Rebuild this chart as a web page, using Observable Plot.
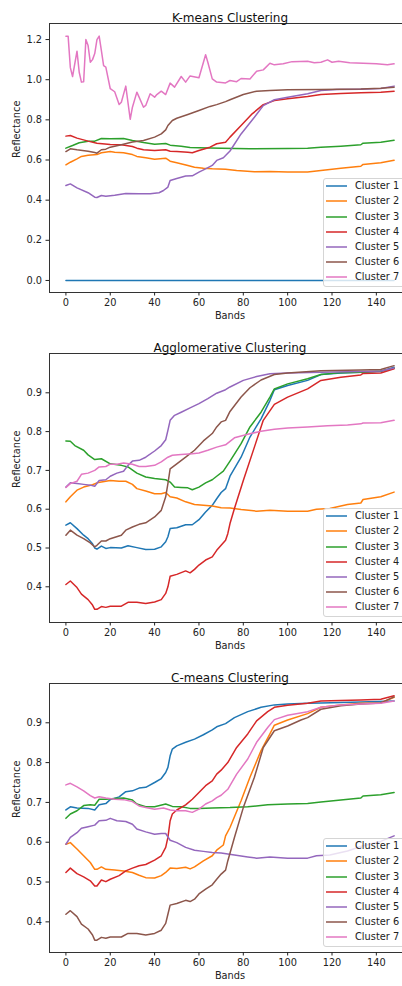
<!DOCTYPE html>
<html><head><meta charset="utf-8">
<script src="https://cdn.jsdelivr.net/npm/d3@7"></script>
<script src="https://cdn.jsdelivr.net/npm/@observablehq/plot@0.6"></script>
<style>
html,body{margin:0;padding:0;background:#fff;overflow:hidden;width:402px;}
.panel{position:relative;width:402px;height:330px;overflow:hidden;}
.panel svg{display:block;}
.legend{position:absolute;left:323px;top:178px;width:86px;height:109px;border:1px solid #d5d5d5;border-radius:3px;background:rgba(255,255,255,0.8);box-sizing:border-box;font-family:"DejaVu Sans",sans-serif;font-size:9.8px;color:#222;}
.legend .row{position:absolute;left:0;height:14px;line-height:14px;white-space:nowrap;width:90px;}
.legend .sw{position:absolute;left:2px;top:0;width:21px;height:14px;display:block;}
.legend .lab{position:absolute;left:31px;top:0;}
</style></head><body><div id="root"></div>
<script>
const clusterNames = ["Cluster 1","Cluster 2","Cluster 3","Cluster 4","Cluster 5","Cluster 6","Cluster 7"];
const palette = ["#1f77b4","#ff7f0e","#2ca02c","#d62728","#9467bd","#8c564b","#e377c2"];
const xTicks = [0,20,40,60,80,100,120,140];
const kmTicks = [0,0.2,0.4,0.6,0.8,1.0,1.2];
const agTicks = [0.4,0.5,0.6,0.7,0.8,0.9];
const cmTicks = [0.4,0.5,0.6,0.7,0.8,0.9];
const titles = ["K-means Clustering","Agglomerative Clustering","C-means Clustering"];

// K-means: [band, reflectance]
const km1 = [[0,0],[37,0],[74,0],[111,0],[148,0]];
const km2 = [[0,0.576],[2,0.589],[5,0.606],[7,0.618],[10,0.624],[14,0.627],[16,0.636],[20,0.642],[22,0.639],[26,0.636],[30,0.627],[32,0.618],[36,0.611],[40,0.604],[45,0.609],[47,0.594],[50,0.586],[55,0.573],[58,0.564],[62,0.559],[66,0.556],[72,0.554],[77,0.548],[85,0.541],[92,0.543],[100,0.54],[109,0.54],[115,0.548],[124,0.559],[133,0.569],[134,0.578],[142,0.586],[148,0.599]];
const km3 = [[0,0.659],[3,0.672],[6,0.686],[10,0.694],[13,0.694],[16,0.707],[20,0.706],[26,0.707],[30,0.697],[35,0.687],[40,0.679],[45,0.682],[47,0.674],[52,0.669],[56,0.662],[60,0.661],[70,0.659],[83,0.656],[100,0.657],[109,0.659],[115,0.664],[124,0.669],[133,0.676],[134,0.684],[142,0.689],[148,0.699]];
const km4 = [[0,0.719],[2,0.722],[5,0.709],[10,0.694],[14,0.684],[20,0.677],[25,0.676],[30,0.667],[32,0.659],[35,0.651],[40,0.647],[45,0.651],[47,0.644],[50,0.642],[55,0.639],[57,0.636],[60,0.647],[65,0.664],[68,0.681],[72,0.689],[74,0.714],[79,0.772],[84,0.83],[89,0.876],[94,0.896],[100,0.905],[109,0.916],[115,0.926],[124,0.931],[133,0.935],[142,0.938],[148,0.943]];
const km5 = [[0,0.473],[2,0.481],[5,0.461],[10,0.437],[13,0.415],[14,0.413],[16,0.423],[18,0.42],[22,0.425],[27,0.433],[33,0.432],[38,0.432],[42,0.437],[44,0.448],[46,0.465],[47,0.498],[50,0.508],[54,0.52],[57,0.521],[60,0.54],[63,0.556],[66,0.573],[68,0.598],[71,0.611],[72,0.622],[74,0.645],[79,0.73],[85,0.813],[89,0.871],[94,0.9],[100,0.913],[109,0.93],[115,0.946],[122,0.951],[133,0.953],[142,0.956],[148,0.968]];
const km6 = [[0,0.642],[2,0.656],[5,0.651],[10,0.644],[13,0.637],[14,0.634],[16,0.651],[18,0.654],[20,0.664],[25,0.676],[30,0.69],[35,0.697],[40,0.714],[43,0.73],[45,0.75],[46,0.772],[48,0.797],[50,0.808],[55,0.827],[60,0.847],[65,0.867],[68,0.876],[72,0.891],[74,0.9],[80,0.926],[86,0.943],[92,0.946],[100,0.95],[115,0.951],[133,0.954],[142,0.958],[148,0.963]];
const km7 = [[0,1.217],[1,1.217],[2,1.06],[3,1.016],[5,1.142],[6,1.037],[7,0.988],[8,0.99],[9,1.2],[10,1.17],[11,1.087],[12,1.1],[13,1.13],[14,1.2],[15,1.217],[16,1.145],[17,1.07],[18,1.063],[20,0.955],[22,0.94],[24,0.876],[25,0.888],[27,0.968],[29,0.803],[30,0.863],[32,0.938],[33,0.913],[35,0.863],[36,0.872],[38,0.93],[40,0.913],[41,0.926],[43,0.943],[45,0.926],[47,0.983],[49,0.963],[52,1.016],[54,0.988],[56,1.019],[60,1.01],[63,1.124],[64,1.087],[66,1.004],[68,0.988],[72,0.984],[74,0.996],[77,0.99],[79,1.006],[83,1.004],[86,1.042],[89,1.049],[92,1.082],[94,1.074],[98,1.079],[102,1.09],[109,1.092],[112,1.084],[115,1.087],[118,1.099],[120,1.087],[123,1.092],[128,1.084],[134,1.082],[140,1.079],[145,1.074],[148,1.079]];

// Agglomerative
const ag1 = [[0,0.559],[2,0.565],[5,0.55],[8,0.533],[10,0.524],[12,0.511],[13,0.5],[14,0.497],[16,0.505],[18,0.499],[20,0.501],[25,0.5],[28,0.506],[32,0.501],[36,0.496],[40,0.497],[43,0.503],[45,0.516],[46,0.529],[47,0.55],[50,0.552],[54,0.56],[57,0.56],[60,0.573],[63,0.593],[66,0.61],[68,0.627],[70,0.643],[72,0.653],[74,0.685],[79,0.734],[83,0.786],[88,0.833],[92,0.88],[94,0.908],[100,0.919],[109,0.932],[115,0.947],[124,0.951],[133,0.953],[142,0.955],[148,0.966]];
const ag2 = [[0,0.619],[2,0.632],[5,0.649],[8,0.657],[12,0.663],[14,0.668],[18,0.672],[20,0.674],[24,0.672],[27,0.672],[30,0.664],[32,0.653],[36,0.647],[40,0.64],[43,0.64],[45,0.643],[47,0.632],[50,0.629],[54,0.619],[58,0.612],[62,0.61],[66,0.608],[70,0.604],[74,0.603],[79,0.599],[86,0.595],[92,0.597],[100,0.595],[109,0.595],[113,0.6],[119,0.602],[127,0.612],[133,0.616],[134,0.625],[142,0.632],[148,0.644]];
const ag3 = [[0,0.776],[2,0.775],[4,0.764],[8,0.752],[10,0.74],[13,0.728],[16,0.73],[20,0.717],[25,0.713],[28,0.709],[32,0.693],[36,0.683],[40,0.679],[45,0.676],[47,0.67],[49,0.657],[52,0.656],[55,0.655],[57,0.65],[60,0.657],[63,0.668],[66,0.676],[68,0.685],[71,0.698],[74,0.724],[79,0.769],[83,0.812],[88,0.85],[92,0.889],[94,0.91],[100,0.923],[109,0.936],[115,0.947],[124,0.952],[133,0.953],[142,0.956],[148,0.963]];
const ag4 = [[0,0.406],[2,0.415],[5,0.398],[7,0.381],[10,0.367],[12,0.353],[13,0.342],[14,0.342],[16,0.349],[18,0.347],[20,0.35],[25,0.35],[28,0.36],[32,0.36],[36,0.357],[40,0.361],[43,0.367],[45,0.383],[46,0.4],[47,0.427],[50,0.432],[54,0.441],[56,0.436],[58,0.445],[60,0.456],[63,0.469],[66,0.477],[68,0.494],[70,0.507],[72,0.52],[73,0.537],[74,0.563],[76,0.602],[80,0.674],[85,0.76],[89,0.829],[94,0.87],[100,0.889],[106,0.903],[109,0.91],[115,0.932],[124,0.94],[133,0.946],[134,0.95],[142,0.951],[148,0.962]];
const ag5 = [[0,0.657],[2,0.668],[5,0.666],[8,0.664],[11,0.662],[13,0.659],[15,0.674],[18,0.676],[20,0.685],[23,0.693],[26,0.698],[28,0.713],[30,0.724],[33,0.726],[36,0.734],[40,0.75],[43,0.764],[45,0.779],[46,0.803],[47,0.829],[49,0.842],[52,0.85],[56,0.861],[60,0.872],[64,0.885],[68,0.899],[72,0.908],[74,0.915],[80,0.932],[86,0.942],[92,0.949],[100,0.951],[115,0.953],[133,0.955],[142,0.956],[148,0.964]];
const ag6 = [[0,0.533],[2,0.546],[5,0.533],[8,0.524],[11,0.513],[13,0.503],[14,0.507],[16,0.518],[18,0.518],[20,0.524],[25,0.533],[27,0.546],[30,0.554],[33,0.561],[36,0.565],[40,0.58],[43,0.597],[45,0.632],[46,0.666],[47,0.704],[50,0.717],[54,0.734],[58,0.752],[62,0.776],[66,0.795],[68,0.812],[70,0.825],[72,0.829],[74,0.852],[79,0.889],[83,0.913],[88,0.933],[94,0.947],[100,0.951],[115,0.957],[133,0.959],[142,0.96],[148,0.97]];
const ag7 = [[0,0.656],[2,0.666],[5,0.672],[7,0.69],[10,0.693],[13,0.7],[15,0.709],[18,0.71],[20,0.716],[23,0.716],[26,0.719],[30,0.716],[33,0.71],[36,0.71],[40,0.713],[43,0.722],[46,0.734],[48,0.739],[52,0.741],[57,0.743],[60,0.745],[64,0.752],[68,0.76],[72,0.766],[76,0.784],[82,0.793],[88,0.801],[94,0.806],[100,0.809],[109,0.812],[118,0.815],[127,0.817],[133,0.82],[134,0.822],[142,0.823],[148,0.829]];

// C-means
const cm1 = [[0,0.681],[2,0.689],[5,0.686],[10,0.685],[13,0.681],[15,0.694],[18,0.697],[20,0.707],[24,0.714],[27,0.727],[30,0.729],[33,0.736],[36,0.738],[40,0.75],[43,0.76],[45,0.775],[46,0.788],[47,0.817],[48,0.834],[50,0.842],[54,0.851],[58,0.859],[62,0.87],[66,0.882],[68,0.89],[72,0.898],[76,0.913],[82,0.928],[88,0.939],[94,0.945],[100,0.947],[109,0.949],[115,0.95],[133,0.952],[148,0.955]];
const cm2 = [[0,0.595],[2,0.599],[5,0.583],[8,0.566],[11,0.549],[13,0.532],[14,0.532],[16,0.538],[18,0.532],[22,0.53],[26,0.528],[30,0.524],[33,0.517],[36,0.511],[40,0.51],[43,0.516],[45,0.524],[47,0.535],[50,0.534],[54,0.537],[56,0.533],[58,0.538],[62,0.553],[66,0.566],[68,0.58],[71,0.593],[72,0.616],[74,0.637],[79,0.704],[83,0.763],[88,0.83],[92,0.872],[94,0.894],[100,0.907],[109,0.923],[115,0.939],[124,0.945],[133,0.949],[142,0.95],[148,0.964]];
const cm3 = [[0,0.66],[2,0.671],[5,0.679],[8,0.692],[11,0.694],[13,0.693],[15,0.708],[18,0.708],[22,0.71],[26,0.711],[30,0.706],[32,0.696],[36,0.689],[40,0.689],[45,0.696],[48,0.69],[52,0.689],[56,0.685],[60,0.685],[66,0.686],[74,0.687],[82,0.689],[91,0.694],[100,0.696],[109,0.697],[115,0.701],[124,0.706],[133,0.711],[134,0.716],[142,0.719],[148,0.725]];
const cm4 = [[0,0.524],[2,0.535],[5,0.521],[8,0.513],[11,0.503],[13,0.49],[14,0.49],[16,0.505],[18,0.501],[20,0.507],[24,0.516],[27,0.528],[30,0.535],[33,0.541],[36,0.544],[40,0.555],[43,0.566],[45,0.587],[46,0.612],[47,0.654],[48,0.671],[50,0.681],[54,0.694],[57,0.708],[60,0.725],[63,0.742],[66,0.754],[68,0.771],[70,0.781],[73,0.8],[77,0.838],[82,0.872],[86,0.905],[91,0.928],[94,0.939],[100,0.944],[109,0.949],[115,0.955],[133,0.957],[142,0.959],[148,0.968]];
const cm5 = [[0,0.595],[2,0.612],[5,0.624],[7,0.635],[10,0.639],[13,0.643],[15,0.654],[18,0.655],[20,0.66],[23,0.654],[27,0.652],[30,0.645],[32,0.633],[36,0.626],[40,0.62],[43,0.622],[45,0.622],[47,0.605],[50,0.599],[54,0.587],[58,0.58],[62,0.577],[66,0.574],[70,0.573],[76,0.568],[82,0.563],[86,0.56],[92,0.563],[100,0.56],[109,0.56],[113,0.566],[119,0.568],[127,0.578],[134,0.591],[142,0.602],[148,0.616]];
const cm6 = [[0,0.419],[2,0.428],[5,0.413],[7,0.394],[10,0.382],[12,0.367],[13,0.354],[14,0.354],[16,0.361],[18,0.359],[20,0.362],[25,0.362],[28,0.371],[32,0.371],[36,0.367],[40,0.371],[43,0.379],[45,0.396],[46,0.419],[47,0.442],[50,0.446],[54,0.454],[56,0.451],[58,0.457],[60,0.47],[63,0.482],[66,0.493],[68,0.507],[70,0.52],[72,0.53],[73,0.553],[76,0.612],[80,0.687],[85,0.763],[89,0.838],[94,0.88],[100,0.892],[106,0.907],[109,0.913],[115,0.934],[124,0.943],[133,0.947],[142,0.95],[148,0.965]];
const cm7 = [[0,0.744],[2,0.748],[5,0.739],[8,0.729],[11,0.717],[13,0.711],[15,0.714],[18,0.711],[22,0.708],[26,0.707],[30,0.702],[33,0.691],[36,0.687],[40,0.683],[44,0.686],[47,0.681],[50,0.679],[54,0.679],[57,0.675],[60,0.683],[63,0.696],[66,0.704],[68,0.712],[70,0.718],[73,0.733],[77,0.771],[82,0.809],[86,0.851],[91,0.888],[94,0.908],[100,0.919],[109,0.928],[115,0.939],[124,0.945],[133,0.947],[142,0.949],[148,0.955]];

const xDomain = [-7.4, 155.4];
const charts = [
  {title: titles[0], series: [km1,km2,km3,km4,km5,km6,km7], yDomain: [-0.06, 1.28], yTicks: kmTicks},
  {title: titles[1], series: [ag1,ag2,ag3,ag4,ag5,ag6,ag7], yDomain: [0.308, 1.0013], yTicks: agTicks},
  {title: titles[2], series: [cm1,cm2,cm3,cm4,cm5,cm6,cm7], yDomain: [0.323, 0.9987], yTicks: cmTicks}
];

const SVGNS = "http://www.w3.org/2000/svg";
const root = document.getElementById("root");
charts.forEach((c) => {
  const rows = [];
  c.series.forEach((pts, i) => pts.forEach(([b, v]) => rows.push({band: b, value: v, cluster: clusterNames[i]})));
  const svg = Plot.plot({
    width: 412, height: 330,
    marginTop: 23, marginBottom: 38, marginLeft: 49, marginRight: 2,
    style: {fontFamily: '"DejaVu Sans", sans-serif', fontSize: "9.8px", color: "#222", background: "#fff", maxWidth: "none"},
    x: {domain: xDomain, label: null},
    y: {domain: c.yDomain, label: null},
    color: {domain: clusterNames, range: palette},
    marks: [
      Plot.line(rows, {x: "band", y: "value", stroke: "cluster", z: "cluster", strokeWidth: 1.5}),
      Plot.frame({stroke: "#333", strokeWidth: 1}),
      Plot.axisX(xTicks, {tickSize: 3.5, tickPadding: 3, label: null, tickFormat: d => String(d)}),
      Plot.axisY(c.yTicks, {tickSize: 3.5, tickPadding: 4, label: null, tickFormat: d => d.toFixed(1)}),
      Plot.text([c.title], {frameAnchor: "top", dy: -10, fontSize: 12, fill: "#111", text: d => d}),
      Plot.text(["Bands"], {frameAnchor: "bottom", dy: 26, fill: "#222", text: d => d}),
      Plot.text(["Reflectance"], {frameAnchor: "left", dx: -33, rotate: -90, fill: "#222", text: d => d})
    ]
  });
  const panel = document.createElement("div");
  panel.className = "panel";
  panel.appendChild(svg);
  const lg = document.createElement("div");
  lg.className = "legend";
  clusterNames.forEach((name, i) => {
    const row = document.createElement("div");
    row.className = "row";
    row.style.top = Math.round(0.3 + 15.1 * i) + "px";
    const sw = document.createElementNS(SVGNS, "svg");
    sw.setAttribute("class", "sw");
    sw.setAttribute("width", "21");
    sw.setAttribute("height", "14");
    const ln = document.createElementNS(SVGNS, "line");
    ln.setAttribute("x1", "0"); ln.setAttribute("x2", "21");
    ln.setAttribute("y1", "7"); ln.setAttribute("y2", "7");
    ln.setAttribute("stroke", palette[i]);
    ln.setAttribute("stroke-width", "1.5");
    sw.appendChild(ln);
    const lab = document.createElement("span");
    lab.className = "lab";
    lab.textContent = name;
    row.appendChild(sw); row.appendChild(lab);
    lg.appendChild(row);
  });
  panel.appendChild(lg);
  root.appendChild(panel);
});
</script></body></html>
